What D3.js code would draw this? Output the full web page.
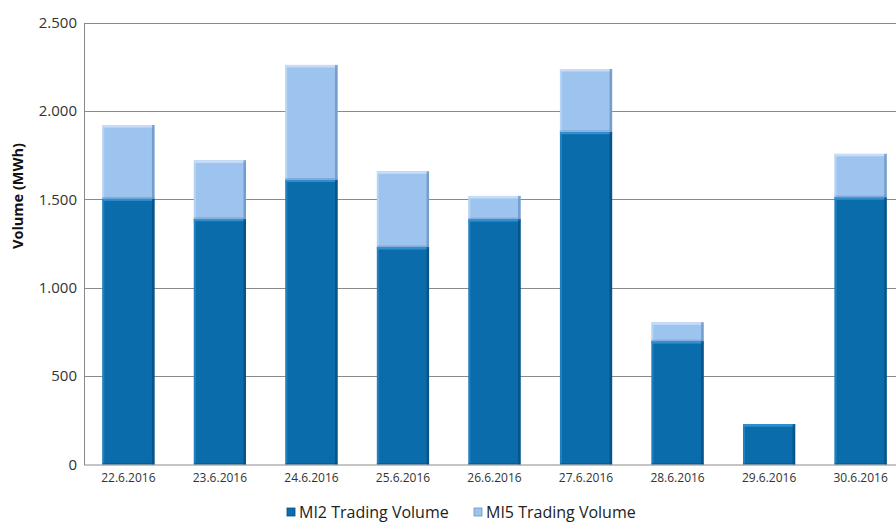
<!DOCTYPE html>
<html><head><meta charset="utf-8">
<script src="https://cdn.jsdelivr.net/npm/d3@7"></script>
<style>body{margin:0;background:#fff}svg{display:block}</style>
</head><body>
<svg id="c" width="896" height="522"></svg>
<script>
const categories = ["22.6.2016","23.6.2016","24.6.2016","25.6.2016","26.6.2016","27.6.2016","28.6.2016","29.6.2016","30.6.2016"];
const mi2 = [1505, 1390, 1612, 1230, 1388, 1882, 698, 228, 1512];
const mi5 = [415, 330, 648, 428, 131, 355, 106, 0, 245];
const yTicks = [0, 500, 1000, 1500, 2000, 2500];
const seriesNames = ["MI2 Trading Volume", "MI5 Trading Volume"];
const colors = {mi2: "#0a6cab", mi2Light: "#2f8fd0", mi2Dark: "#064f80", mi5: "#9dc3ef", mi5Light: "#c6dcf7", mi5Dark: "#6d95c4"};

const svg = d3.select("#c");
const L = 84, R = 905, T = 22.5, B = 464.5;
const x = d3.scaleBand().domain(categories).range([L, R]).paddingInner(0.43).paddingOuter(0.2);
const y = d3.scaleLinear().domain([0, 2500]).range([B, T]);
const fmt = d => d3.format(",")(d).replace(/,/g, ".");

// gridlines
svg.append("g").selectAll("line").data(yTicks.filter(d => d > 0)).join("line")
  .attr("x1", L).attr("x2", 896).attr("y1", d => Math.round(y(d)) + 0.5).attr("y2", d => Math.round(y(d)) + 0.5)
  .attr("stroke", "#8a8a8a").attr("stroke-width", 1);

// y axis
const yAxis = svg.append("g").attr("transform", `translate(${L},0)`)
  .call(d3.axisLeft(y).tickValues(yTicks).tickFormat(fmt).tickSize(0).tickPadding(7));
yAxis.select(".domain").attr("stroke", "#8a8a8a");
yAxis.selectAll("text").attr("font-family", "Open Sans, sans-serif").attr("font-size", 15).attr("fill", "#333");

// bars
const stack = categories.map((c, i) => ({c, a: mi2[i], b: mi5[i]}));
const bw = x.bandwidth();
function bevel(g, x0, y0, w, h, base, light, dark) {
  if (h <= 0) return;
  g.append("rect").attr("x", x0).attr("y", y0).attr("width", w).attr("height", h).attr("fill", base);
  g.append("rect").attr("x", x0).attr("y", y0).attr("width", w).attr("height", Math.min(2.5, h)).attr("fill", light);
  g.append("rect").attr("x", x0).attr("y", y0).attr("width", 2).attr("height", h).attr("fill", light).attr("opacity", 0.6);
  g.append("rect").attr("x", x0 + w - 2.5).attr("y", y0).attr("width", 2.5).attr("height", h).attr("fill", dark).attr("opacity", 0.8);
  g.append("rect").attr("x", x0).attr("y", y0 + h - 1.5).attr("width", w).attr("height", 1.5).attr("fill", dark).attr("opacity", 0.5);
}
const bars = svg.append("g");
stack.forEach(d => {
  const x0 = x(d.c);
  bevel(bars, x0, y(d.a), bw, y(0) - y(d.a), colors.mi2, colors.mi2Light, colors.mi2Dark);
  bevel(bars, x0, y(d.a + d.b), bw, y(d.a) - y(d.a + d.b), colors.mi5, colors.mi5Light, colors.mi5Dark);
});

// x axis
const xAxis = svg.append("g").attr("transform", `translate(0,${B})`)
  .call(d3.axisBottom(x).tickSize(0).tickPadding(9));
xAxis.select(".domain").attr("stroke", "#8a8a8a").attr("d", `M${L},0.5H896`);
xAxis.selectAll("text").attr("font-family", "Open Sans, sans-serif").attr("font-size", 12).attr("fill", "#333");

// y title
svg.append("text").attr("transform", "translate(23,196) rotate(-90)").attr("text-anchor", "middle")
  .attr("font-family", "Open Sans, sans-serif").attr("font-weight", "bold").attr("font-size", 14.5).attr("fill", "#111")
  .text("Volume (MWh)");

// legend
const leg = svg.append("g");
const legX = [287, 474];
seriesNames.forEach((n, i) => {
  const g = leg.append("g").attr("transform", `translate(${legX[i]},508)`);
  g.append("rect").attr("x", 0).attr("y", 0).attr("width", 8).attr("height", 8)
    .attr("fill", i === 0 ? colors.mi2 : colors.mi5).attr("stroke", i === 0 ? colors.mi2Dark : colors.mi5Dark).attr("stroke-width", 0.8);
  g.append("text").attr("x", 12).attr("y", 10).attr("font-family", "Open Sans, sans-serif").attr("font-size", 16).attr("fill", "#222").text(n);
});
</script>
</body></html>
